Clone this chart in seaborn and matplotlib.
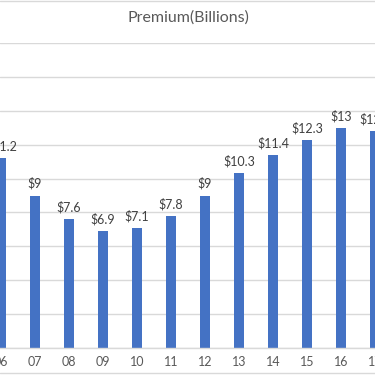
import matplotlib
matplotlib.use("Agg")
import matplotlib.pyplot as plt
import seaborn as sns
import numpy as np
import pandas as pd
from matplotlib.lines import Line2D

years = ["06", "07", "08", "09", "10", "11", "12", "13", "14", "15", "16", "17"]
premium = [11.2, 9, 7.6, 6.9, 7.1, 7.8, 9, 10.3, 11.4, 12.3, 13, 12.8]
title = "Premium(Billions)"

df = pd.DataFrame({"year": years, "premium": premium})

sns.set_theme(style="white")
plt.rcParams["font.family"] = ["Lato", "DejaVu Sans"]

fig = plt.figure(figsize=(3.75, 3.75), dpi=100)
ax = fig.add_axes([0, (375 - 348) / 375, 1, (348 - 43) / 375])

sns.barplot(data=df, x="year", y="premium", color="#4472C4", width=0.31,
            saturation=1, ax=ax, edgecolor="none")

ax.set_yticks(np.arange(0, 19, 2))
ax.yaxis.grid(True, color="#D9D9D9", linewidth=1)
ax.set_axisbelow(True)
ax.set_yticklabels([])
ax.tick_params(axis="y", length=0)
for s in ["left", "right", "top"]:
    ax.spines[s].set_visible(False)
ax.spines["bottom"].set_color("#D9D9D9")
ax.spines["bottom"].set_linewidth(1)

ax.set_xlabel("")
ax.set_ylabel("")
ax.tick_params(axis="x", which="major", length=0, pad=6, labelsize=9, labelcolor="#595959")
ax.set_xticks(np.arange(-0.5, 12, 1), minor=True)
ax.tick_params(axis="x", which="minor", length=4, color="#D9D9D9", width=1, direction="out")

ax.set_xlim(-1 / 34, 374 / 34)
ax.set_ylim(0, 18)

ax.bar_label(ax.containers[0], labels=[f"${v:g}" for v in premium], padding=4,
             fontsize=9, color="#404040")

fig.text(188 / 375, 1 - 18 / 375, title, ha="center", va="center",
         fontsize=11.5, color="#595959")

fig.add_artist(Line2D([0, 1], [1 - 0.5 / 375, 1 - 0.5 / 375], color="#D9D9D9", lw=1,
                      transform=fig.transFigure))
fig.add_artist(Line2D([0, 1], [1 - 373 / 375, 1 - 373 / 375], color="#D9D9D9", lw=1,
                      transform=fig.transFigure))

fig.savefig("out.png", dpi=100)
